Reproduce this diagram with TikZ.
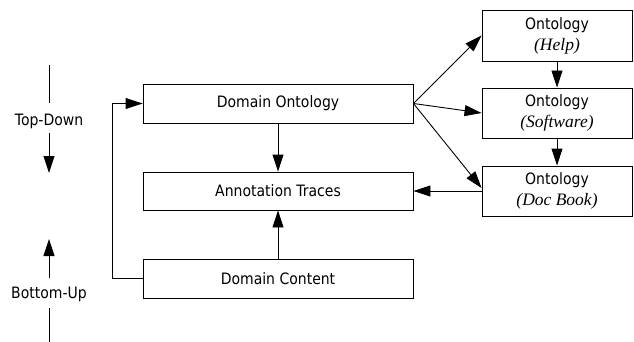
\documentclass[tikz,border=0pt]{standalone}
\usepackage{fontspec}
\usepackage{graphicx}
\setmainfont{DejaVu Sans}
\newfontfamily\serifit{Liberation Serif}
\newcommand\stx[1]{\scalebox{1}[1.12]{#1}}
\newcommand\itx[1]{{\serifit\itshape\fontsize{17.5}{18}\selectfont #1}}
\usetikzlibrary{arrows.meta,calc}
\begin{document}
\begin{tikzpicture}[x=1pt,y=-1pt,
  box/.style={draw,line width=0.9pt,minimum width=270pt,minimum height=39pt,inner sep=0pt,font=\fontsize{14}{16}\selectfont},
  obox/.style={draw,line width=0.9pt,minimum width=150pt,minimum height=50pt,inner sep=0pt,align=center,font=\fontsize{14}{21}\selectfont},
  lbl/.style={font=\fontsize{14}{16}\selectfont,inner sep=0pt},
  arr/.style={line width=0.9pt,-{Triangle[length=17pt,width=11pt]}},
  ln/.style={line width=0.9pt}]
\useasboundingbox (0,0) rectangle (634,342);
\node[box] (DO) at (278,103.5) {\stx{Domain Ontology}};
\node[box,minimum height=38pt] (AT) at (278,191) {\stx{Annotation Traces}};
\node[box] (DC) at (278,278.5) {\stx{Domain Content}};
\node[obox,minimum height=51pt] (H) at (557,35.5) {\stx{Ontology}\\\itx{(Help)}};
\node[obox] (S) at (557,113) {\stx{Ontology}\\\itx{(Software)}};
\node[obox] (D) at (557,191) {\stx{Ontology}\\\itx{(Doc Book)}};
\node[lbl] (TD) at (49,121) {\stx{Top-Down}};
\node[lbl] (BU) at (49,294) {\stx{Bottom-Up}};
\coordinate (t1) at (49,65);
\coordinate (t2) at (49,103);
\coordinate (t3) at (49,133);
\coordinate (t4) at (49,173);
\coordinate (b1) at (49,278);
\coordinate (b2) at (49,239);
\coordinate (b3) at (49,308);
\coordinate (b4) at (49,342);
\draw[ln] (t1) -- (t2);
\draw[arr] (t3) -- (t4);
\draw[arr] (b1) -- (b2);
\draw[ln] (b3) -- (b4);
\draw[arr] (DO) -- (AT);
\draw[arr] (DC) -- (AT);
\draw[arr] (DC.west) -- ++(-30,0) |- (DO.west);
\draw[arr] (DO.east) -- (H.west);
\draw[arr] (DO.east) -- (S.west);
\draw[arr] (DO.east) -- ($(D.west)+(0,-3)$);
\draw[arr] (D.west) -- (AT.east);
\draw[arr] (H) -- (S);
\draw[arr] (S) -- (D);
\end{tikzpicture}
\end{document}
